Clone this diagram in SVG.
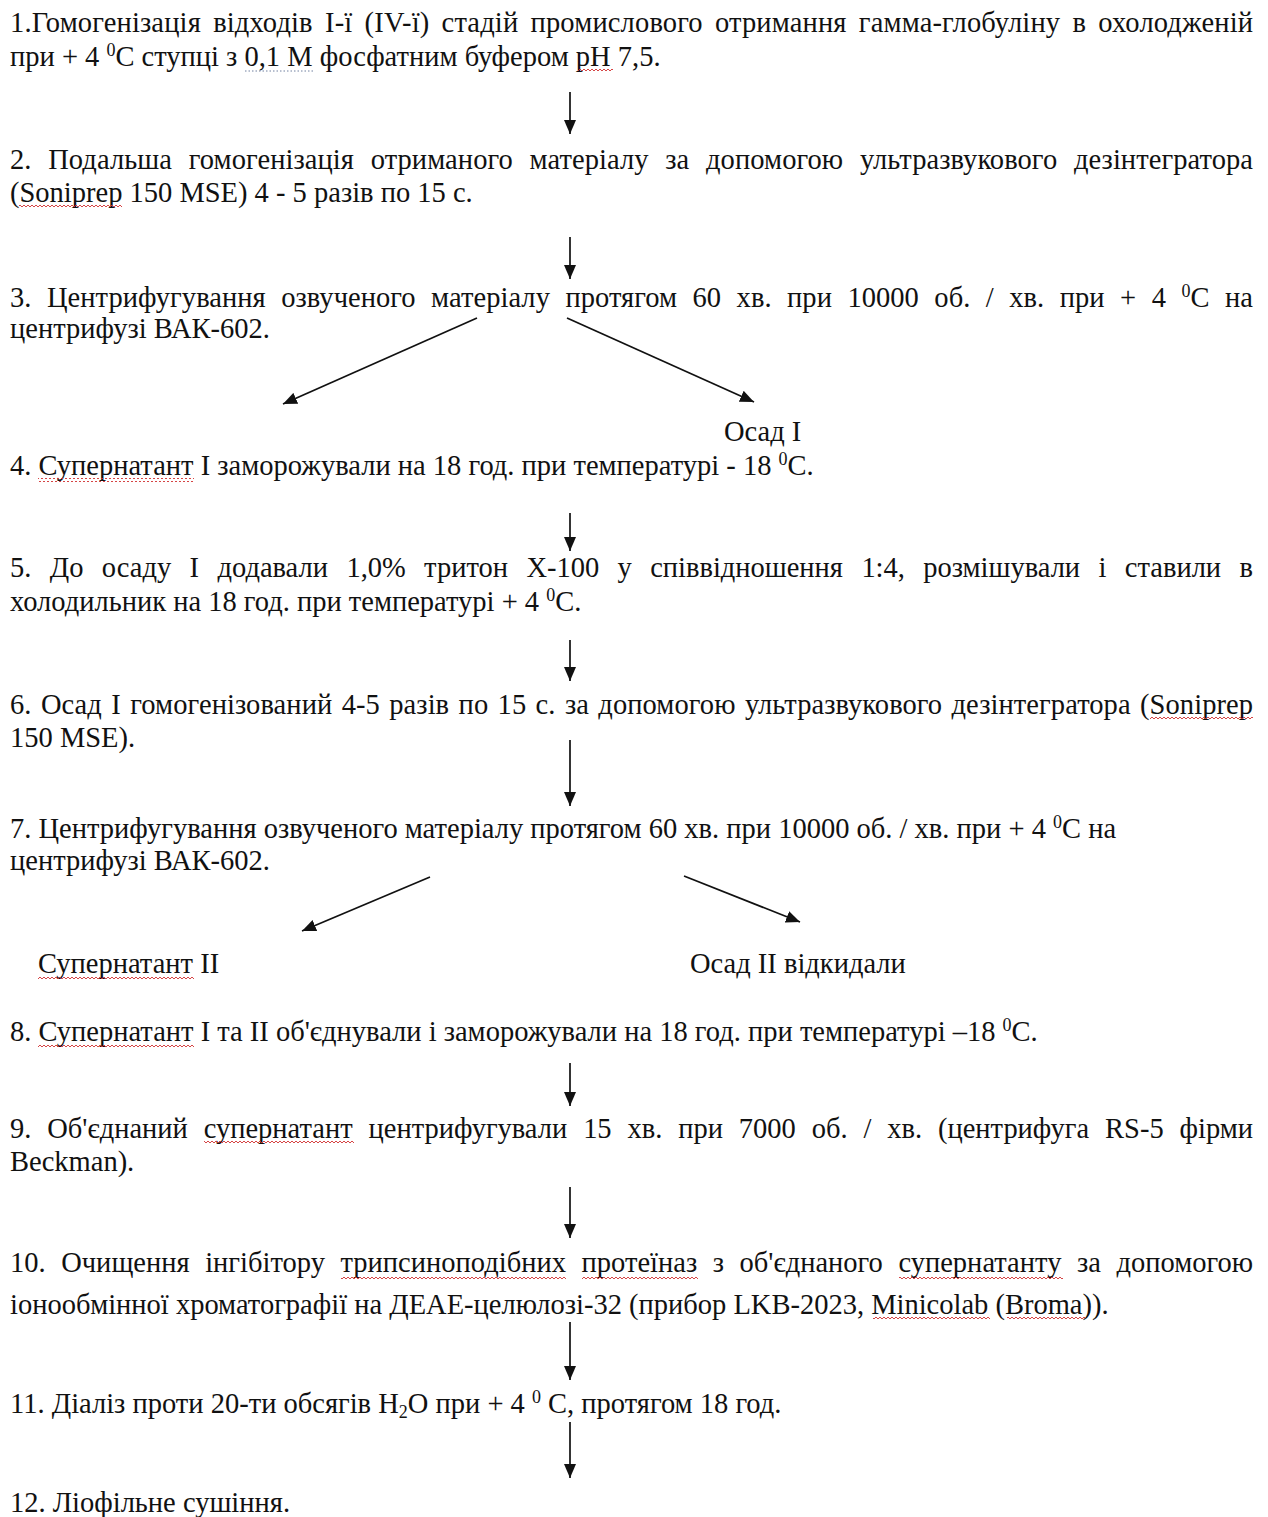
<svg xmlns="http://www.w3.org/2000/svg" width="1268" height="1517" viewBox="0 0 1268 1517">
<style>
.t{font-family:"Liberation Serif","Times New Roman",serif;font-size:28.5px;fill:#111}
.sp{font-size:18px}
.c{stroke:#111;stroke-width:1.7;fill:none}
</style>
<defs>
<marker id="ah" viewBox="0 0 14 12" refX="14" refY="6" markerWidth="14" markerHeight="12" markerUnits="userSpaceOnUse" orient="auto"><path d="M0,0 L14,6 L0,12 z" fill="#111"/></marker>
<pattern id="wv" width="4" height="4" patternUnits="userSpaceOnUse"><path d="M0 1 L2 3 L4 1" stroke="#d03030" stroke-width="0.9" fill="none"/></pattern>
</defs>
<rect width="1268" height="1517" fill="#fff"/>

<g id="step1">
<text class="t" x="10" y="32" textLength="1243" lengthAdjust="spacing" style="word-spacing:5px">1.Гомогенізація відходів I-ї (IV-ї) стадій промислового отримання гамма-глобуліну в охолодженій</text>
<text class="t" x="10" y="66">при + 4 <tspan class="sp" dy="-10">0</tspan><tspan dy="10">С ступці з 0,1 М фосфатним буфером pH 7,5.</tspan></text>
</g>
<g id="step2">
<text class="t" x="10" y="169" textLength="1243" lengthAdjust="spacing" style="word-spacing:9.5px">2. Подальша гомогенізація отриманого матеріалу за допомогою ультразвукового дезінтегратора</text>
<text class="t" x="10" y="202">(Soniprep 150 MSE) 4 - 5 разів по 15 с.</text>
</g>
<g id="step3">
<text class="t" x="10" y="307" textLength="1243" lengthAdjust="spacing" style="word-spacing:8.3px">3. Центрифугування озвученого матеріалу протягом 60 хв. при 10000 об. / хв. при + 4 <tspan class="sp" dy="-10">0</tspan><tspan dy="10">С на</tspan></text>
<text class="t" x="10" y="338">центрифузі ВАК-602.</text>
</g>
<g id="osad1">
<text class="t" x="724" y="441">Осад І</text>
</g>
<g id="step4">
<text class="t" x="10" y="475">4. Супернатант І заморожували на 18 год. при температурі - 18 <tspan class="sp" dy="-10">0</tspan><tspan dy="10">С.</tspan></text>
</g>
<g id="step5">
<text class="t" x="10" y="577" textLength="1243" lengthAdjust="spacing" style="word-spacing:11.3px">5. До осаду І додавали 1,0% тритон Х-100 у співвідношення 1:4, розмішували і ставили в</text>
<text class="t" x="10" y="611">холодильник на 18 год. при температурі + 4 <tspan class="sp" dy="-10">0</tspan><tspan dy="10">С.</tspan></text>
</g>
<g id="step6">
<text class="t" x="10" y="714" textLength="1243" lengthAdjust="spacing" style="word-spacing:2.2px">6. Осад І гомогенізований 4-5 разів по 15 с. за допомогою ультразвукового дезінтегратора (Soniprep</text>
<text class="t" x="10" y="747">150 MSE).</text>
</g>
<g id="step7">
<text class="t" x="10" y="838">7. Центрифугування озвученого матеріалу протягом 60 хв. при 10000 об. / хв. при + 4 <tspan class="sp" dy="-10">0</tspan><tspan dy="10">С на</tspan></text>
<text class="t" x="10" y="870">центрифузі ВАК-602.</text>
</g>
<g id="super2">
<text class="t" x="38" y="973">Супернатант ІІ</text>
</g>
<g id="osad2">
<text class="t" x="690" y="973">Осад ІІ відкидали</text>
</g>
<g id="step8">
<text class="t" x="10" y="1041">8. Супернатант І та ІІ об'єднували і заморожували на 18 год. при температурі –18 <tspan class="sp" dy="-10">0</tspan><tspan dy="10">С.</tspan></text>
</g>
<g id="step9">
<text class="t" x="10" y="1138" textLength="1243" lengthAdjust="spacing" style="word-spacing:8.8px">9. Об'єднаний супернатант центрифугували 15 хв. при 7000 об. / хв. (центрифуга RS-5 фірми</text>
<text class="t" x="10" y="1171">Beckman).</text>
</g>
<g id="step10">
<text class="t" x="10" y="1272" textLength="1243" lengthAdjust="spacing" style="word-spacing:8.4px">10. Очищення інгібітору трипсиноподібних протеїназ з об'єднаного супернатанту за допомогою</text>
<text class="t" x="10" y="1314">іонообмінної хроматографії на ДЕАЕ-целюлозі-32 (прибор LKB-2023, Minicolab (Broma)).</text>
</g>
<g id="step11">
<text class="t" x="10" y="1413">11. Діаліз проти 20-ти обсягів H<tspan class="sp" dy="5">2</tspan><tspan dy="-5">O при + 4 </tspan><tspan class="sp" dy="-10">0</tspan><tspan dy="10"> С, протягом 18 год.</tspan></text>
</g>
<g id="step12">
<text class="t" x="10" y="1512">12. Ліофільне сушіння.</text>
</g>

<g id="spellmarks">
<line x1="245" y1="71" x2="313" y2="71" stroke="#7080a0" stroke-width="1" stroke-dasharray="1.5 2"/>
<rect x="578" y="69" width="35" height="4" fill="url(#wv)"/>
<rect x="19" y="205" width="103" height="4" fill="url(#wv)"/>
<rect x="38" y="478" width="156" height="4" fill="url(#wv)"/>
<rect x="1150" y="717" width="103" height="4" fill="url(#wv)"/>
<rect x="38" y="976" width="156" height="4" fill="url(#wv)"/>
<rect x="38" y="1044" width="156" height="4" fill="url(#wv)"/>
<rect x="204" y="1141" width="150" height="4" fill="url(#wv)"/>
<rect x="341" y="1275" width="225" height="4" fill="url(#wv)"/>
<rect x="582" y="1275" width="116" height="4" fill="url(#wv)"/>
<rect x="899" y="1275" width="164" height="4" fill="url(#wv)"/>
<rect x="873" y="1317" width="117" height="4" fill="url(#wv)"/>
<rect x="1007" y="1317" width="78" height="4" fill="url(#wv)"/>
</g>

<g id="connectors">
<line class="c" x1="570" y1="92" x2="570" y2="134" marker-end="url(#ah)"/>
<line class="c" x1="570" y1="237" x2="570" y2="279" marker-end="url(#ah)"/>
<line class="c" x1="477" y1="318" x2="283" y2="404" marker-end="url(#ah)"/>
<line class="c" x1="567" y1="318" x2="754" y2="402" marker-end="url(#ah)"/>
<line class="c" x1="570" y1="513" x2="570" y2="551" marker-end="url(#ah)"/>
<line class="c" x1="570" y1="640" x2="570" y2="681" marker-end="url(#ah)"/>
<line class="c" x1="570" y1="740" x2="570" y2="806" marker-end="url(#ah)"/>
<line class="c" x1="430" y1="877" x2="302" y2="931" marker-end="url(#ah)"/>
<line class="c" x1="684" y1="876" x2="800" y2="922" marker-end="url(#ah)"/>
<line class="c" x1="570" y1="1063" x2="570" y2="1106" marker-end="url(#ah)"/>
<line class="c" x1="570" y1="1187" x2="570" y2="1238" marker-end="url(#ah)"/>
<line class="c" x1="570" y1="1322" x2="570" y2="1380" marker-end="url(#ah)"/>
<line class="c" x1="570" y1="1422" x2="570" y2="1478" marker-end="url(#ah)"/>
</g>
</svg>
